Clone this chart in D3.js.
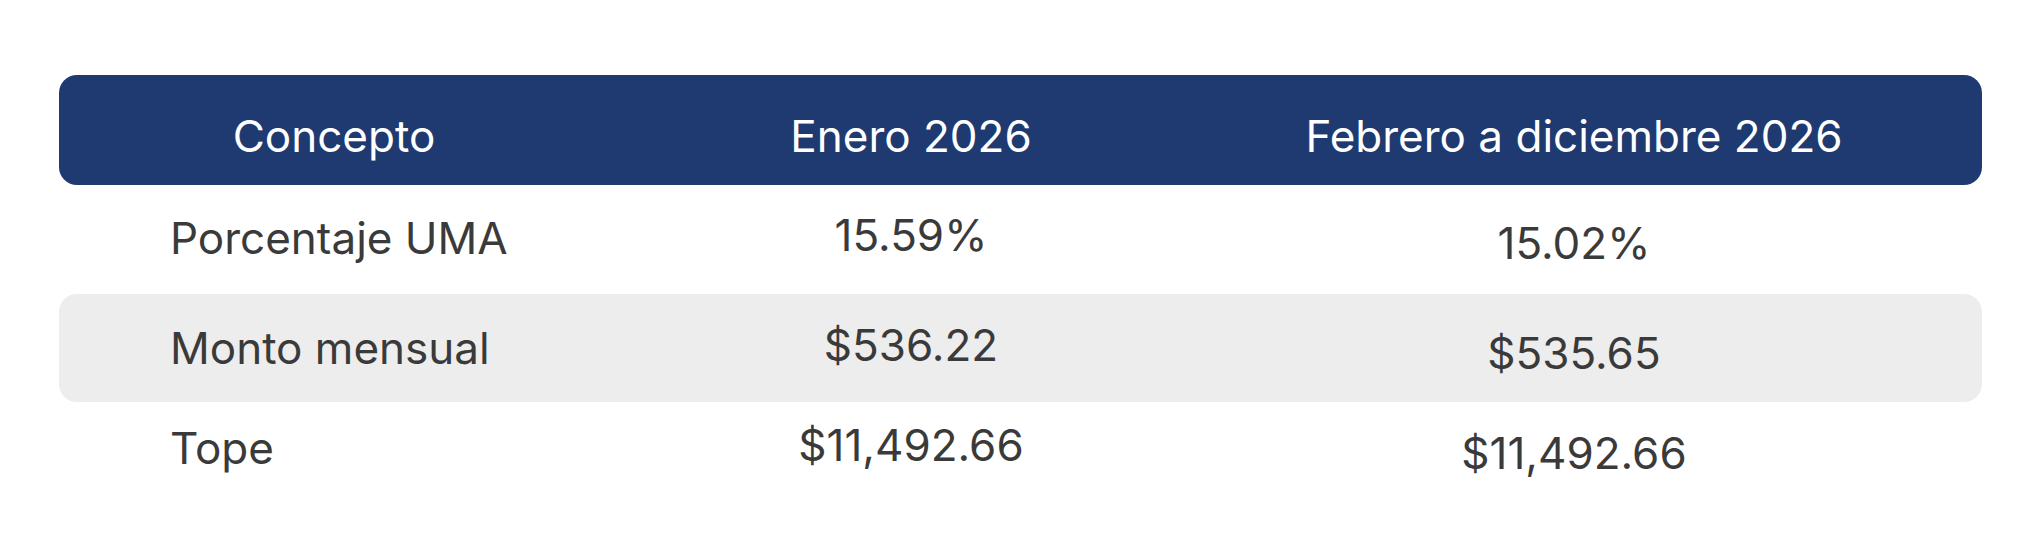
<!DOCTYPE html>
<html><head><meta charset="utf-8">
<script src="https://cdn.jsdelivr.net/npm/d3@7"></script>
<style>body{margin:0;background:#fff}</style></head>
<body><svg id="c" width="2040" height="542"></svg>
<script>
const columns = ["Concepto", "Enero 2026", "Febrero a diciembre 2026"];
const concepts = ["Porcentaje UMA", "Monto mensual", "Tope"];
const enero = ["15.59%", "$536.22", "$11,492.66"];
const febrero = ["15.02%", "$535.65", "$11,492.66"];

const svg = d3.select("#c");
const font = "Inter, 'Liberation Sans', sans-serif";
svg.append("rect").attr("x",59).attr("y",75).attr("width",1923).attr("height",110).attr("rx",18).attr("fill","#1e3a70");
const colX = [334, 911, 1574];
svg.selectAll("text.h").data(columns).join("text").attr("class","h")
  .attr("x",(d,i)=>colX[i]).attr("y",152).attr("text-anchor","middle")
  .attr("fill","#fff").attr("font-family",font).attr("font-size",44).text(d=>d);
const rowY = d3.scaleBand().domain(concepts).range([185,510]).paddingInner(0.2).paddingOuter(0.3);
svg.append("rect").attr("x",59).attr("y",294).attr("width",1923).attr("height",108).attr("rx",18).attr("fill","#ededed");
const base = [254,364,464];
const off = [0,0,0];
const g = svg.append("g").attr("font-family",font).attr("font-size",44).attr("fill","#3a3a3a");
concepts.forEach((c,i)=>{
  g.append("text").attr("x",170).attr("y",base[i]).text(c);
  g.append("text").attr("x",colX[1]).attr("y",base[i]-3).attr("text-anchor","middle").text(enero[i]);
  g.append("text").attr("x",colX[2]).attr("y",base[i]+5).attr("text-anchor","middle").text(febrero[i]);
});
</script></body></html>
